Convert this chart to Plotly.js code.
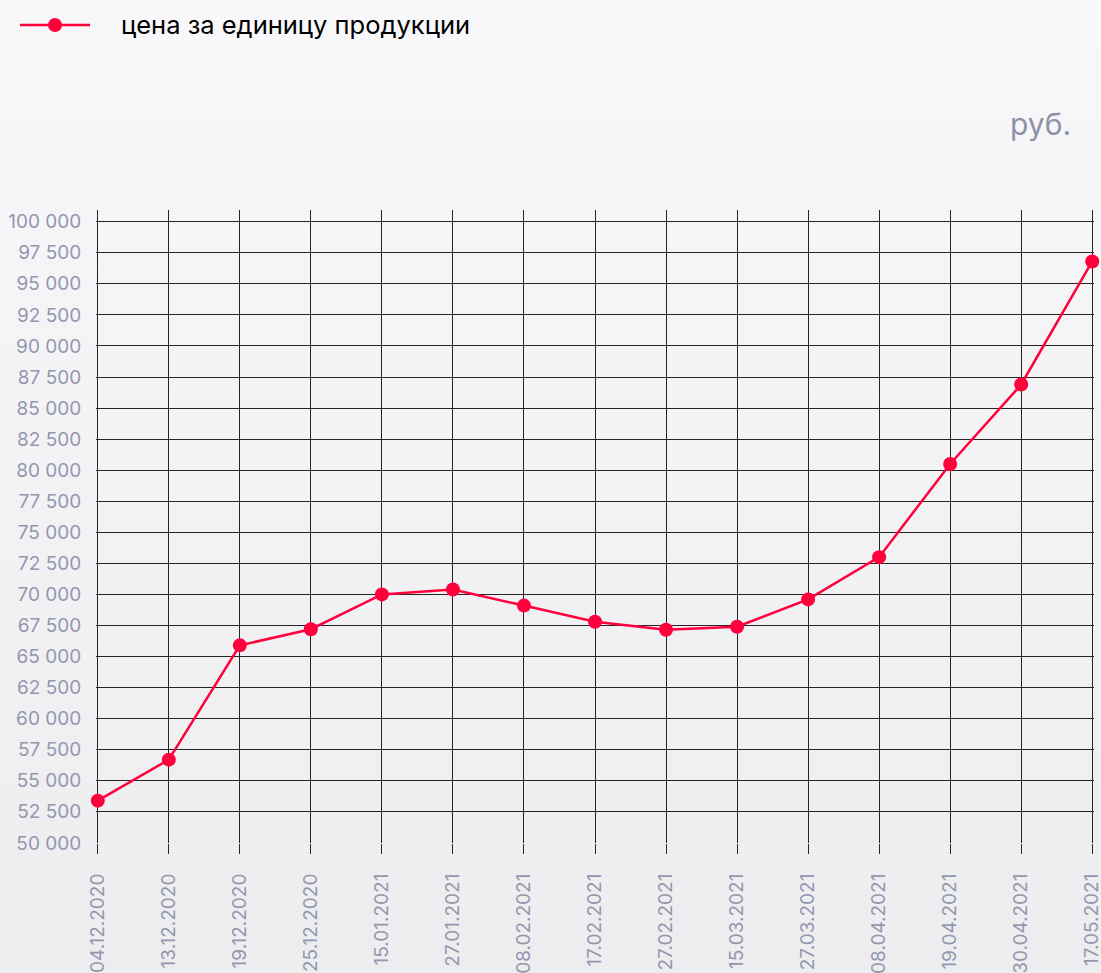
<!DOCTYPE html>
<html>
<head>
<meta charset="utf-8">
<script src="https://cdn.plot.ly/plotly-3.0.1.min.js"></script>
<style>
html,body{margin:0;padding:0;width:1101px;height:973px;overflow:hidden;background:linear-gradient(180deg,#f8f8fa 0%,#ededf0 100%);}
#chart{width:1101px;height:973px;}
</style>
</head>
<body>
<div id="chart"></div>
<script>
var dates = ["04.12.2020","13.12.2020","19.12.2020","25.12.2020","15.01.2021","27.01.2021","08.02.2021","17.02.2021","27.02.2021","15.03.2021","27.03.2021","08.04.2021","19.04.2021","30.04.2021","17.05.2021"];
var prices = [53400,56700,65900,67200,70000,70400,69100,67800,67150,67400,69600,73000,80500,86900,96800];
var seriesName = "цена за единицу продукции";
var unitLabel = "руб.";

var red = "#ff003c";
var grid = "#2a2224";
var tickGrey = "#9397ae";

var W = 1101, H = 973, L = 96, R = 7, T = 210, B = 130;
var pw = W - L - R, ph = H - T - B;
function px(x){ return (x - L) / pw; }
function py(y){ return (H - B - y) / ph; }

var trace = {
  x: dates.map(function(d, i){ return i; }),
  y: prices,
  type: "scatter",
  mode: "lines+markers",
  name: seriesName,
  line: {color: red, width: 2.5},
  marker: {color: red, size: 14},
  cliponaxis: false,
  showlegend: false,
  hoverinfo: "y"
};

var layout = {
  width: W, height: H,
  margin: {l: L, r: R, t: T, b: B},
  paper_bgcolor: "rgba(0,0,0,0)",
  plot_bgcolor: "rgba(0,0,0,0)",
  font: {family: "Inter, 'Noto Sans', sans-serif", color: tickGrey},
  separators: ", ",
  showlegend: false,
  xaxis: {
    range: [-0.025, 14.025],
    tickmode: "array",
    tickvals: dates.map(function(d, i){ return i; }),
    ticktext: dates,
    tickangle: -90,
    showgrid: true, gridcolor: grid, gridwidth: 1,
    ticks: "outside", ticklen: 10, tickcolor: grid, tickwidth: 1,
    ticklabelstandoff: 12,
    ticklabeloverflow: "allow",
    showline: false, zeroline: false,
    tickfont: {size: 19, color: tickGrey, family: "Inter, sans-serif"},
    fixedrange: true
  },
  yaxis: {
    range: [49990, 100942],
    tick0: 50000, dtick: 2500,
    tickformat: ",d",
    showgrid: true, gridcolor: grid, gridwidth: 1,
    ticks: "outside", ticklen: 10, tickcolor: "rgba(0,0,0,0)",
    showline: false, zeroline: false,
    tickfont: {size: 19, color: tickGrey, family: "Inter, sans-serif"},
    fixedrange: true
  },
  shapes: [
    {type: "line", xref: "paper", yref: "paper", x0: px(20), x1: px(90), y0: py(25), y1: py(25),
     line: {color: red, width: 2.5}},
    {type: "circle", xref: "paper", yref: "paper", x0: px(48), x1: px(62), y0: py(32), y1: py(18),
     fillcolor: red, line: {color: red, width: 0}}
  ],
  annotations: [
    {text: seriesName, xref: "paper", yref: "paper", x: px(119), y: py(25), xanchor: "left", yanchor: "middle",
     showarrow: false, font: {size: 25.5, color: "#000000", family: "Inter, sans-serif"}},
    {text: unitLabel, xref: "paper", yref: "paper", x: px(1073), y: py(124), xanchor: "right", yanchor: "middle",
     showarrow: false, font: {size: 30, color: "#8e91a8", family: "Inter, sans-serif"}}
  ]
};

Plotly.newPlot("chart", [trace], layout, {displayModeBar: false, staticPlot: true});
</script>
</body>
</html>
